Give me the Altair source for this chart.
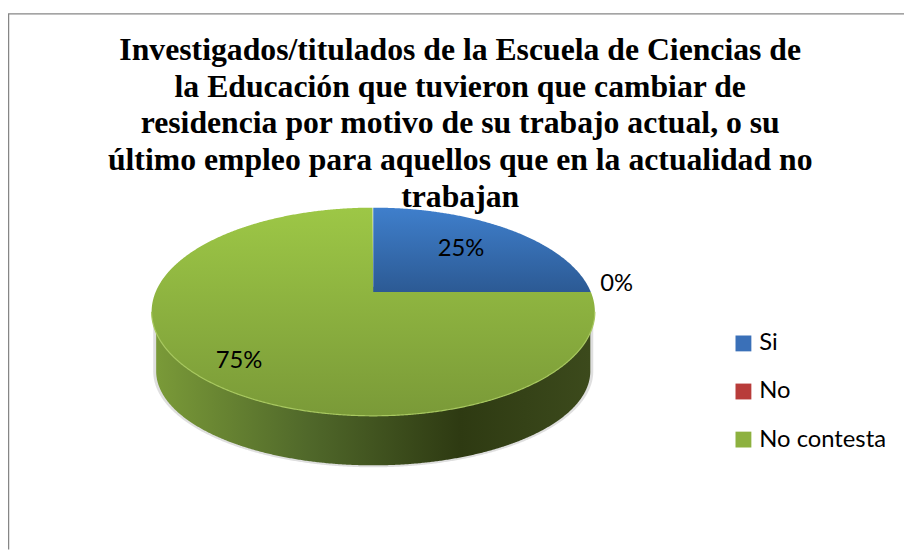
import numpy as np
import pandas as pd
import altair as alt

# --- chart values
categories = ["Si", "No", "No contesta"]
shares = [25, 0, 75]
share_labels = ["25%", "0%", "75%"]
title_lines = [
    "Investigados/titulados de la Escuela de Ciencias de",
    "la Educación que tuvieron que cambiar de",
    "residencia por motivo de su trabajo actual, o su",
    "último empleo para aquellos que en la actualidad no",
    "trabajan",
]
legend_colors = ["#3A70B8", "#B83C3A", "#8DB13F"]

# --- layout of the drawing, in the reference's pixel frame
W, H = 904, 544
X0, Y0 = 8, 8
CX, CY = 376.5, 292.0
RADIUS_X, RADIUS_Y, TILT = 219.5, 101.2, 0.1905
DEPTH_Y, SIDE_RX, SIDE_RY = 80.0, 219.0, 95.0
label_x = [465, 622, 241]
label_y = [249, 284, 362]

xs = alt.Scale(domain=[X0, X0 + W], range=[0, W], nice=False, zero=False)
ys = alt.Scale(domain=[Y0, Y0 + H], range=[0, H], nice=False, zero=False)


def project(frac):
    a = 2 * np.pi * frac
    u, v = np.sin(a), np.cos(a)
    d = 1 + TILT * v
    return RADIUS_X * u / d, RADIUS_Y * v / d


RX = RADIUS_X / np.sqrt(1 - TILT**2)
RY = RADIUS_Y / (1 - TILT**2)
EC = RADIUS_Y * TILT / (1 - TILT**2)  # ellipse centre below the pie's hub


def half(x):
    return RY * np.sqrt(np.clip(1 - (x / RX) ** 2, 0, 1))


t = np.linspace(np.pi, 0, 500)
grid = RX * np.cos(t)
xe, ye = project(shares[0] / sum(shares))

# first slice: between hub and top edge
mid = np.linspace(0, xe, 200)
blue = pd.DataFrame({"x": CX + mid, "y": CY + EC - half(mid), "y2": CY - ye * mid / xe})

# last slice: everything else
left = grid[grid <= 0]
right = grid[grid > xe]
g_x = np.concatenate([left, [0], mid, right])
g_up = np.concatenate([EC - half(left), [0], -ye * mid / xe, EC - half(right)])
g_lo = EC + half(g_x)
green = pd.DataFrame({"x": CX + g_x, "y": CY + g_up, "y2": CY + g_lo})

# side wall
sx = SIDE_RX * np.cos(t)
side = pd.DataFrame({
    "x": CX + sx,
    "y": CY + DEPTH_Y + SIDE_RY * np.sqrt(np.clip(1 - (sx / SIDE_RX) ** 2, 0, 1)),
    "y2": CY + EC,
})
shx = (SIDE_RX + 3) * np.cos(t)
shadow = pd.DataFrame({
    "x": CX + shx,
    "y": CY + DEPTH_Y + (SIDE_RY + 2) * np.sqrt(np.clip(1 - (shx / (SIDE_RX + 3)) ** 2, 0, 1)),
    "y2": CY + EC,
})
rim = pd.DataFrame({"x": CX + grid, "y": CY + EC + half(grid)})

enc = dict(
    x=alt.X("x:Q", scale=xs, axis=None),
    y=alt.Y("y:Q", scale=ys, axis=None),
)


def grad(kind, stops):
    s = [alt.GradientStop(color=c, offset=o) for o, c in stops]
    if kind == "h":
        return alt.LinearGradient(gradient="linear", stops=s, x1=0, x2=1, y1=0, y2=0)
    return alt.LinearGradient(gradient="linear", stops=s, x1=0, x2=0, y1=0, y2=1)


hidden = pd.DataFrame({"cat": categories, "x": [CX] * 3, "y": [CY] * 3})
legend_layer = alt.Chart(hidden).mark_point(filled=True, shape="square", size=100, opacity=1).encode(
    **enc,
    color=alt.Color(
        "cat:N",
        sort=categories,
        scale=alt.Scale(domain=categories, range=legend_colors),
        legend=alt.Legend(
            title=None,
            orient="none",
            legendX=730,
            legendY=324,
            symbolType="square",
            symbolSize=256,
            symbolStrokeWidth=0,
            symbolOpacity=1,
            labelFont="Lato",
            labelFontSize=24,
            labelColor="#000000",
            labelOffset=4,
            rowPadding=24.5,
            labelLimit=300,
        ),
    ),
)

shadow_layer = alt.Chart(shadow).mark_area(color="#b8b8b8", opacity=0.45).encode(**enc, y2="y2:Q")
side_layer = alt.Chart(side).mark_area(
    color=grad("h", [(0, "#7A9A38"), (0.35, "#50682A"), (0.7, "#2E3A12"), (1, "#3C4A1C")])
).encode(**enc, y2="y2:Q")
green_layer = alt.Chart(green).mark_area(
    color=grad("v", [(0, "#9DC746"), (1, "#7A9A38")])
).encode(**enc, y2="y2:Q")
blue_layer = alt.Chart(blue).mark_area(
    color=grad("v", [(0, "#3F7FCC"), (1, "#2C5A94")])
).encode(**enc, y2="y2:Q")
rim_layer = alt.Chart(rim).mark_line(color="#A8C860", strokeWidth=1.2).encode(**enc)

labels = pd.DataFrame({"t": share_labels, "x": label_x, "y": label_y})
label_layer = alt.Chart(labels).mark_text(
    font="Lato", fontSize=24, color="#000000", align="center", baseline="middle"
).encode(**enc, text="t:N")

frame_top = alt.Chart(pd.DataFrame({"x": [X0], "x2": [X0 + W], "y": [11.5]})).mark_rule(
    color="#868686", strokeWidth=1.5
).encode(x=alt.X("x:Q", scale=xs, axis=None), x2="x2:Q", y=alt.Y("y:Q", scale=ys, axis=None))
frame_left = alt.Chart(pd.DataFrame({"x": [X0 + 0.5], "y": [11.5], "y2": [Y0 + H]})).mark_rule(
    color="#868686", strokeWidth=1.5
).encode(x=alt.X("x:Q", scale=xs, axis=None), y=alt.Y("y:Q", scale=ys, axis=None), y2="y2:Q")

chart = alt.layer(
    legend_layer, frame_top, frame_left, shadow_layer, side_layer,
    green_layer, blue_layer, rim_layer, label_layer,
).properties(
    width=W,
    height=H,
    padding=0,
    autosize=alt.AutoSizeParams(type="none"),
    background="#FFFFFF",
    title=alt.TitleParams(
        text=title_lines,
        font="Liberation Serif",
        fontSize=32,
        fontWeight="bold",
        color="#000000",
        anchor="start",
        align="center",
        baseline="top",
        lineHeight=37,
        dx=457,
        dy=197,
        offset=-8,
    ),
).configure_view(stroke=None)

chart.save("out.html", embed_options={"renderer": "svg", "actions": False})
